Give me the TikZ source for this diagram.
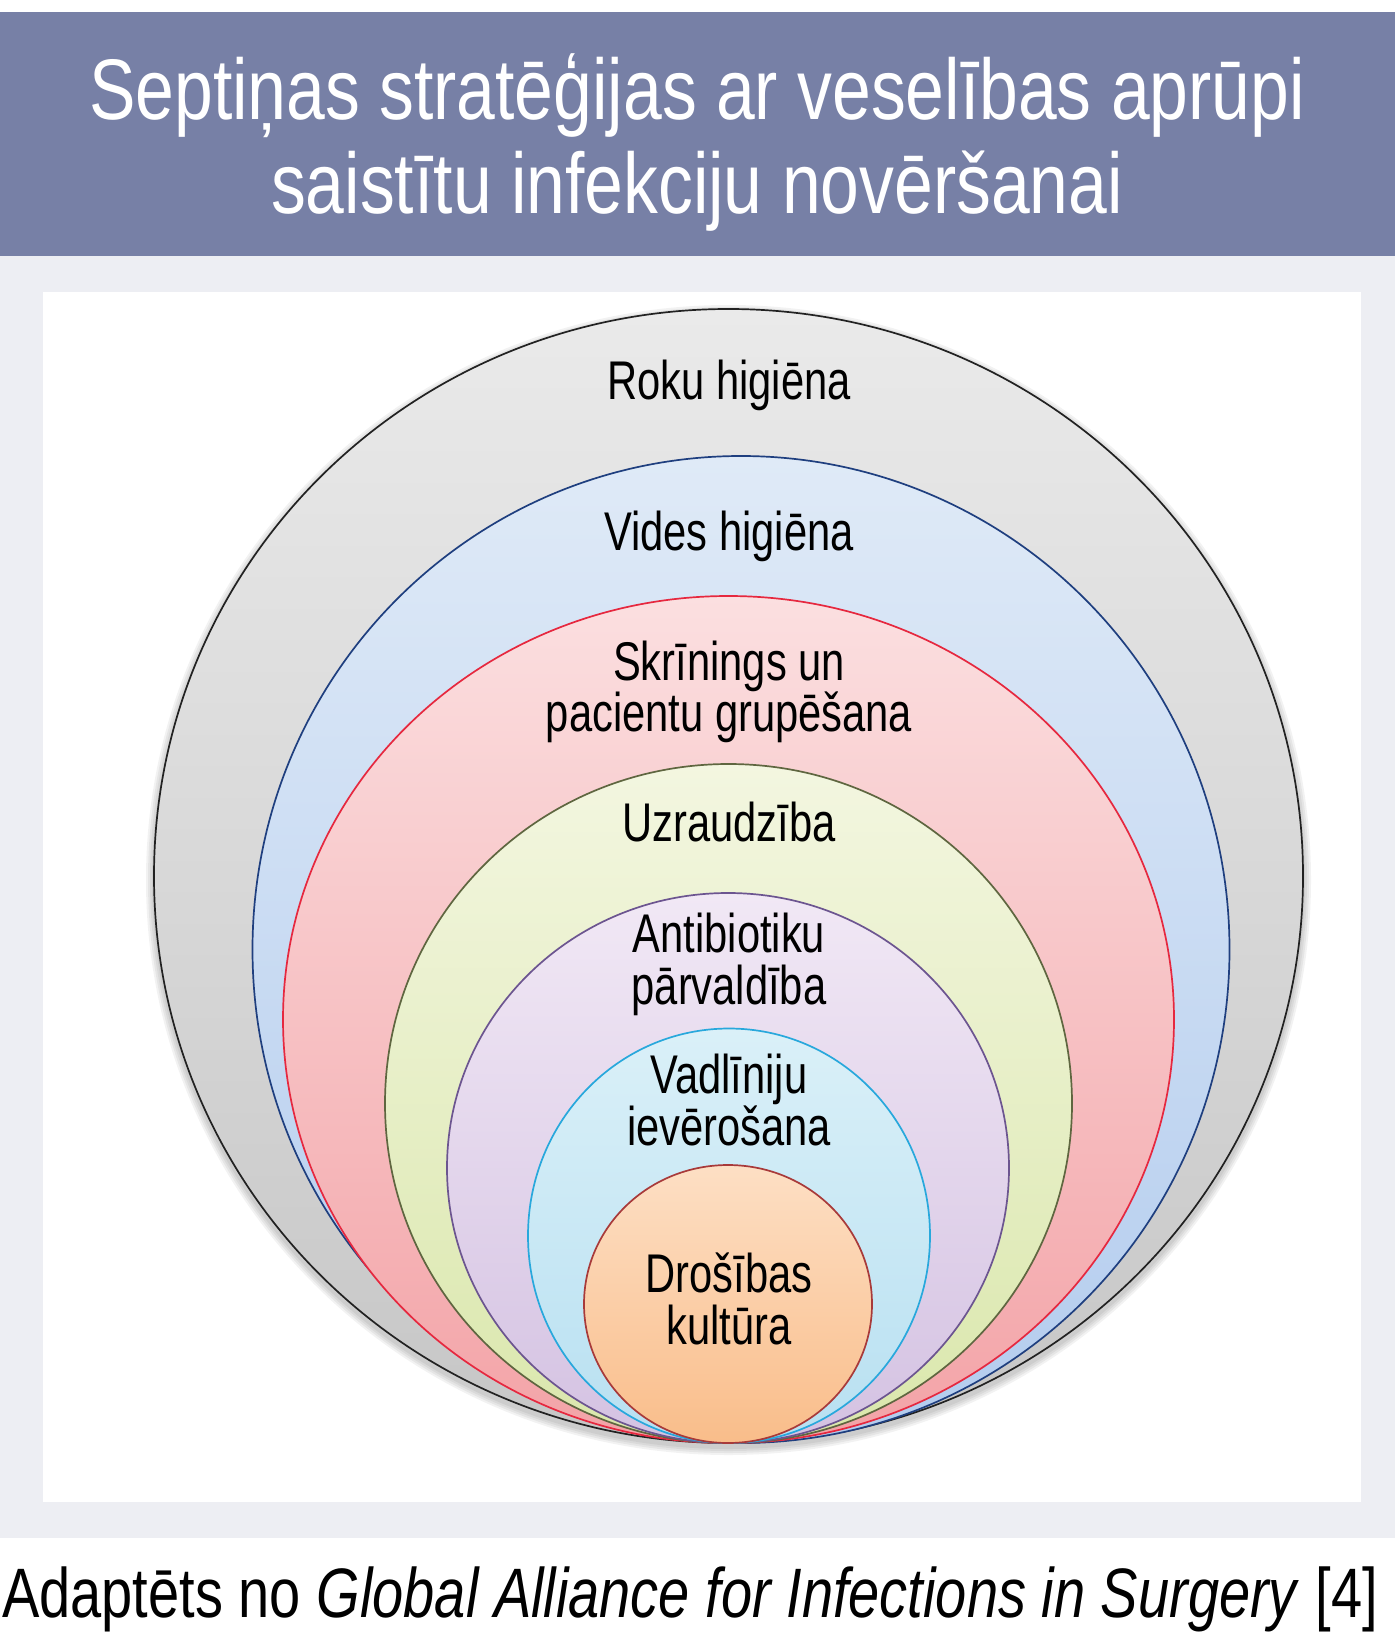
\documentclass[tikz,border=0pt]{standalone}
\usepackage{fontspec}
\setmainfont{Liberation Sans}
\newfontfamily\titlefont[FakeStretch=0.81]{Liberation Sans}
\newfontfamily\labfont[FakeStretch=0.765]{Liberation Sans}
\newfontfamily\capfont[FakeStretch=0.80]{Liberation Sans}
\definecolor{headblue}{HTML}{7780A6}
\definecolor{bggray}{HTML}{EDEEF3}
\definecolor{grayT}{HTML}{EAEAEA}\definecolor{grayB}{HTML}{C6C6C6}\definecolor{grayL}{HTML}{222222}
\definecolor{blueT}{HTML}{DFEAF7}\definecolor{blueB}{HTML}{B3CCEE}\definecolor{blueL}{HTML}{1F3F7F}
\definecolor{redT}{HTML}{FBDFE0}\definecolor{redB}{HTML}{F3A3A7}\definecolor{redL}{HTML}{E6283F}
\definecolor{greenT}{HTML}{F3F6E0}\definecolor{greenB}{HTML}{DAE7AC}\definecolor{greenL}{HTML}{5F6640}
\definecolor{purpT}{HTML}{F1E8F5}\definecolor{purpB}{HTML}{D4C2E2}\definecolor{purpL}{HTML}{6C5590}
\definecolor{cyanT}{HTML}{DAF0F8}\definecolor{cyanB}{HTML}{B8E0F1}\definecolor{cyanL}{HTML}{28A8DC}
\definecolor{orT}{HTML}{FDDFC4}\definecolor{orB}{HTML}{F9BD8A}\definecolor{orL}{HTML}{A83A3A}
\tikzset{
  ring/.style n args={3}{top color=#1, bottom color=#2, draw=#3, line width=1.7pt},
  lab/.style={font=\labfont\fontsize{54.5}{54.5}\selectfont, text=black, anchor=base, inner sep=0pt},
  ttl/.style={font=\titlefont\fontsize{86}{86}\selectfont, text=white, anchor=base, inner sep=0pt},
  captxt/.style={font=\capfont\fontsize{70}{70}\selectfont, text=black, anchor=base west, inner sep=0pt},
  shad/.style={fill=black, opacity=0.05}
}
\begin{document}
\begin{tikzpicture}[x=1pt,y=-1pt]
\useasboundingbox (0,0) rectangle (1395,1635);
\fill[white] (0,0) rectangle (1395,1635);
% header
\fill[headblue] (0,12) rectangle (1395,256);
\fill[bggray] (0,256) rectangle (1395,1538);
\fill[white] (43,292) rectangle (1361,1502);
\node[ttl] (t1) at (697,120) {Septiņas stratēģijas ar veselības aprūpi};
\node[ttl] (t2) at (697,213) {saistītu infekciju novēršanai};
% shadow of outer ring
\foreach \d in {2,4,6,8}{
  \path[shad] (728.5,880) ellipse [x radius=574.5pt+\d pt, y radius=567pt+\d pt];
}
% rings
\path[ring={grayT}{grayB}{grayL}] (728.5,876) ellipse [x radius=574.5pt, y radius=567pt];
\path[ring={blueT}{blueB}{blueL}] (741,949.5) ellipse [x radius=488.5pt, y radius=493.5pt];
\path[ring={redT}{redB}{redL}] (728.5,1019.5) ellipse [x radius=445.5pt, y radius=423.5pt];
\path[ring={greenT}{greenB}{greenL}] (728.5,1103.5) ellipse [x radius=343.5pt, y radius=339.5pt];
\path[ring={purpT}{purpB}{purpL}] (728,1168) ellipse [x radius=281pt, y radius=275pt];
\path[ring={cyanT}{cyanB}{cyanL}] (729,1235.75) ellipse [x radius=201pt, y radius=207.25pt];
\path[ring={orT}{orB}{orL}] (728,1304) ellipse [x radius=144pt, y radius=139pt];
% labels
\node[lab] (l1) at (729,399) {Roku higiēna};
\node[lab] (l2) at (729,550) {Vides higiēna};
\node[lab] (l3a) at (729,680) {Skrīnings un};
\node[lab] (l3b) at (729,731) {pacientu grupēšana};
\node[lab] (l4) at (729,841) {Uzraudzība};
\node[lab] (l5a) at (729,952) {Antibiotiku};
\node[lab] (l5b) at (729,1004) {pārvaldība};
\node[lab] (l6a) at (729,1093) {Vadlīniju};
\node[lab] (l6b) at (729,1145) {ievērošana};
\node[lab] (l7a) at (729,1292) {Drošības};
\node[lab] (l7b) at (729,1344) {kultūra};
% caption
\node[captxt] (c) at (2,1617) {Adaptēts no \textit{Global Alliance for Infections in Surgery} [4]};
\end{tikzpicture}
\end{document}
